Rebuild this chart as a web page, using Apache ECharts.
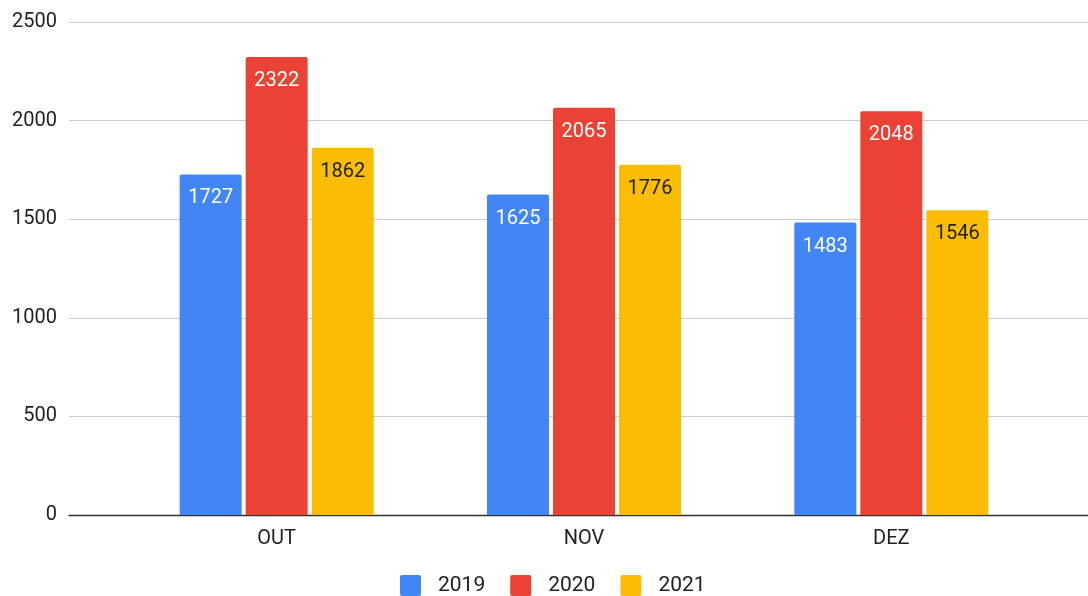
<!DOCTYPE html>
<html><head><meta charset="utf-8">
<script src="https://cdn.jsdelivr.net/npm/echarts@6/dist/echarts.min.js"></script>
<style>html,body{margin:0;padding:0;background:#fff}#c{width:1088px;height:596px}</style>
</head><body><div id="c"></div>
<script>
const categories = ['OUT', 'NOV', 'DEZ'];
const seriesNames = ['2019', '2020', '2021'];
const values2019 = [1727, 1625, 1483];
const values2020 = [2322, 2065, 2048];
const values2021 = [1862, 1776, 1546];
const colors = ['#4285F4', '#EA4335', '#FBBC04'];
const labelColors = ['#ffffff', '#ffffff', '#222222'];
const yMin = 0, yMax = 2500, yStep = 500;

const font = 'Roboto';
const allValues = [values2019, values2020, values2021];
const chart = echarts.init(document.getElementById('c'), null, {renderer: 'canvas'});
chart.setOption({
  animation: false,
  textStyle: {fontFamily: font},
  grid: [
    {left: 69, right: 0, top: 22, height: 493},
    {left: 123, right: 43, top: 22, height: 493}
  ],
  legend: {
    left: 400, top: 575, padding: 0,
    itemWidth: 21, itemHeight: 21, itemGap: 25,
    icon: 'path://M2,0 L19,0 Q21,0 21,2 L21,19 Q21,21 19,21 L2,21 Q0,21 0,19 L0,2 Q0,0 2,0 Z',
    textStyle: {fontFamily: font, fontSize: 21, color: '#222', padding: [0, 0, 0, 12]},
    data: seriesNames
  },
  xAxis: [
    {gridIndex: 0, type: 'value', min: 0, max: 1, show: true,
     axisLine: {show: true, onZero: false, lineStyle: {color: '#333', width: 1.3}},
     axisTick: {show: false}, axisLabel: {show: false}, splitLine: {show: false}},
    {gridIndex: 1, type: 'category', data: categories,
     axisLine: {show: false}, axisTick: {show: false},
     axisLabel: {fontFamily: font, fontSize: 20, color: '#222', margin: 14}}
  ],
  yAxis: [
    {gridIndex: 0, type: 'value', min: yMin, max: yMax, interval: yStep,
     axisLine: {show: false}, axisTick: {show: false},
     axisLabel: {fontFamily: font, fontSize: 20, color: '#222', margin: 12,
       formatter: v => String(v)},
     splitLine: {lineStyle: {color: '#cccccc', width: 1}}},
    {gridIndex: 1, type: 'value', min: yMin, max: yMax, interval: yStep, show: false,
     splitLine: {show: false}}
  ],
  series: seriesNames.map((name, i) => ({
    name: name, type: 'bar', xAxisIndex: 1, yAxisIndex: 1,
    data: allValues[i],
    barWidth: 62, barGap: '6.5%',
    itemStyle: {color: colors[i], borderRadius: [2, 2, 0, 0]},
    label: {show: true, position: 'insideTop', distance: 14,
      fontFamily: font, fontSize: 20, color: labelColors[i]}
  }))
});
</script></body></html>
